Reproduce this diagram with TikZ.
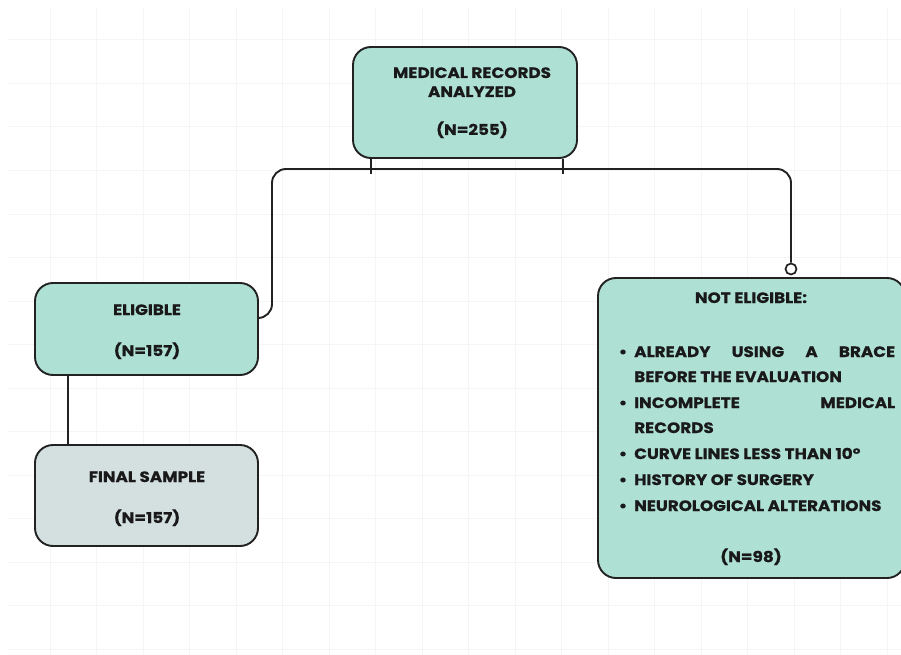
\documentclass[tikz,border=0pt]{standalone}
\usepackage{fontspec}
\setmainfont{Poppins}[BoldFont={Poppins Bold}, BoldFeatures={FakeStretch=1.12, FakeBold=0.6}]
\definecolor{teal}{HTML}{AFE0D4}
\definecolor{grayfill}{HTML}{D4DFDF}
\definecolor{edge}{HTML}{222222}
\definecolor{gridc}{HTML}{F5F5F5}
\tikzset{
  box/.style={draw=edge, line width=1.9pt, rounded corners=18pt, inner sep=0pt},
  conn/.style={draw=edge, line width=1.9pt},
  lbl/.style={font=\fontsize{15}{17}\selectfont\bfseries, text=black!90, inner sep=0pt, anchor=base},
  lblw/.style={lbl, anchor=base west},
}
\begin{document}
\begin{tikzpicture}[x=1pt,y=-1pt]
\useasboundingbox (0,0) rectangle (901,655);
\fill[white] (0,0) rectangle (901,655);
% faint grid
\foreach \x in {50,96.5,...,901} \draw[gridc, line width=1pt] (\x,8) -- (\x,655);
\foreach \y in {40,83.5,...,655} \draw[gridc, line width=1pt] (8,\y) -- (901,\y);
% boxes
\node[box, fill=teal, minimum width=224pt, minimum height=111pt] (top) at (465,102.5) {};
\node[box, fill=teal, minimum width=223pt, minimum height=92pt] (elig) at (146.5,329) {};
\node[box, fill=grayfill, minimum width=223pt, minimum height=101pt] (final) at (146.5,495.5) {};
\begin{scope}
\clip (0,0) rectangle (901,655);
\node[box, fill=teal, minimum width=307pt, minimum height=300pt] (notel) at (751.5,428) {};
\end{scope}
% texts
\node[lbl] (t1) at (472,78) {MEDICAL RECORDS};
\node[lbl] (t2) at (472,97) {ANALYZED};
\node[lbl] (t3) at (472,135) {(N=255)};
\node[lbl] (e1) at (147,315) {ELIGIBLE};
\node[lbl] (e2) at (147,356) {(N=157)};
\node[lbl] (f1) at (147,482) {FINAL SAMPLE};
\node[lbl] (f2) at (147,523) {(N=157)};
\node[lbl] (n0) at (751,303) {NOT ELIGIBLE:};
\node[lbl] (b1) at (623,357) {•};
\node[lblw] (n1) at (634,357) {\makebox[261pt][s]{ALREADY USING A BRACE}};
\node[lblw] (n2) at (634,382) {BEFORE THE EVALUATION};
\node[lbl] (b2) at (623,408) {•};
\node[lblw] (n3) at (634,408) {\makebox[261pt][s]{INCOMPLETE MEDICAL}};
\node[lblw] (n4) at (634,433) {RECORDS};
\node[lbl] (b3) at (623,459) {•};
\node[lblw] (n5) at (634,459) {CURVE LINES LESS THAN 10°};
\node[lbl] (b4) at (623,485) {•};
\node[lblw] (n6) at (634,485) {HISTORY OF SURGERY};
\node[lbl] (b5) at (623,511) {•};
\node[lblw] (n7) at (634,511) {NEUROLOGICAL ALTERATIONS};
\node[lbl] (n8) at (751,562) {(N=98)};
% connectors
\coordinate (tk1) at (371,0);
\coordinate (tk2) at (563,0);
\coordinate (hy) at (0,169);
\coordinate (ly) at (68,0);
\node[draw=edge, line width=1.7pt, fill=white, circle, minimum size=11pt, inner sep=0pt] (dot) at (791,269) {};
\draw[conn] (top.south -| tk1) -- ([yshift=-5pt]tk1 |- hy);
\draw[conn] (top.south -| tk2) -- ([yshift=-5pt]tk2 |- hy);
\draw[conn, rounded corners=14pt] ([yshift=11pt]elig.east) -| (272,169) -| (dot.north);
\draw[conn] (elig.south -| ly) -- (final.north -| ly);
\end{tikzpicture}
\end{document}
